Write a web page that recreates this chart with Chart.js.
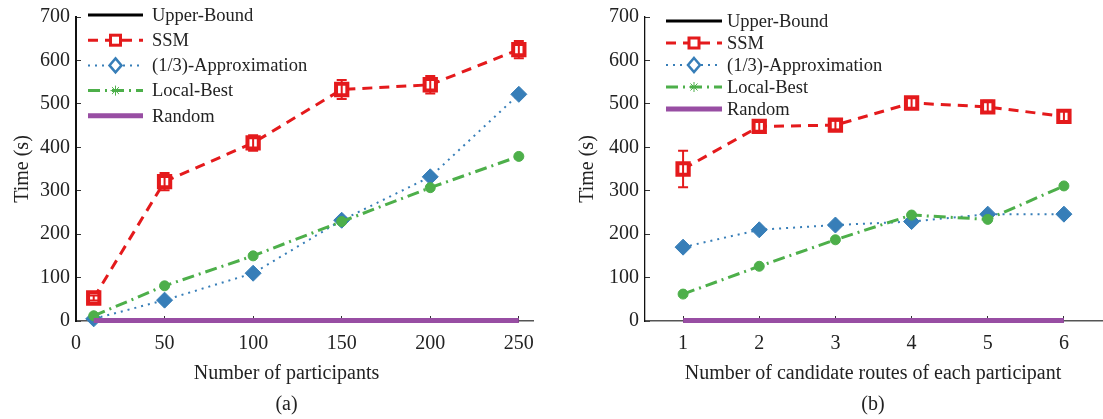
<!DOCTYPE html>
<html>
<head>
<meta charset="utf-8">
<title>Time vs participants / candidate routes</title>
<script src="https://cdn.jsdelivr.net/npm/chart.js@4.4.1/dist/chart.umd.min.js"></script>
<style>
  body { margin: 0; background: #fff; width: 1103px; height: 419px; overflow: hidden; position: relative; }
  canvas { position: absolute; top: 0; }
  #chartA { left: 0; }
  #chartB { left: 553px; }
</style>
</head>
<body>
<canvas id="chartA" width="573" height="419"></canvas>
<canvas id="chartB" width="640" height="419"></canvas>
<script>
// (a) time vs number of participants
const participants = [10, 50, 100, 150, 200, 250];
const upperBoundA = [0, 0, 0, 0, 0, 0];
const ssmA = [53, 321, 410, 533, 544, 625];
const ssmErrA = [6, 20, 18, 22, 20, 20];
const approxA = [5, 48, 110, 232, 332, 522];
const localBestA = [12, 81, 150, 229, 307, 379];
const randomA = [1, 1, 1, 1, 1, 1];
const xTicksA = [0, 50, 100, 150, 200, 250];

// (b) time vs number of candidate routes
const routes = [1, 2, 3, 4, 5, 6];
const upperBoundB = [0, 0, 0, 0, 0, 0];
const ssmB = [350, 448, 451, 502, 493, 471];
const ssmErrB = [42, 10, 10, 12, 14, 14];
const approxB = [170, 210, 221, 229, 246, 246];
const localBestB = [62, 126, 187, 244, 234, 311];
const randomB = [1, 1, 1, 1, 1, 1];
const xTicksB = [1, 2, 3, 4, 5, 6];

const yTicks = [0, 100, 200, 300, 400, 500, 600, 700];
const seriesNames = ['Upper-Bound', 'SSM', '(1/3)-Approximation', 'Local-Best', 'Random'];

const FONT = '"Liberation Serif", "Times New Roman", serif';
const TEXT = '#222';

// line / marker look of each series
const styles = {
  'Upper-Bound':         { color: '#000000', width: 3,   dash: [],            marker: null },
  'SSM':                 { color: '#e41a1c', width: 3,   dash: [10, 7],       marker: 'rect' },
  '(1/3)-Approximation': { color: '#377eb8', width: 2,   dash: [2, 5],        marker: 'rectRot' },
  'Local-Best':          { color: '#4daf4a', width: 3,   dash: [12, 5, 2, 5], marker: 'circle' },
  'Random':              { color: '#984ea3', width: 5,   dash: [],            marker: null }
};

function makeDatasets(xs, values) {
  return seriesNames.map((name, i) => {
    const st = styles[name];
    const ds = {
      label: name,
      data: xs.map((x, j) => ({ x: x, y: values[i][j] })),
      borderColor: st.color,
      backgroundColor: st.color,
      borderWidth: st.width,
      borderDash: st.dash,
      tension: 0,
      clip: false,
      pointRadius: 0,
      pointStyle: st.marker || 'circle',
      order: name === 'Random' ? 0 : (name === 'Upper-Bound' ? 9 : 5 - i)
    };
    if (name === 'SSM') {
      ds.pointRadius = 8;
      ds.pointBackgroundColor = '#fff';
      ds.pointBorderColor = st.color;
      ds.pointBorderWidth = 4;
    } else if (name === '(1/3)-Approximation') {
      ds.pointRadius = 8;
      ds.pointBorderWidth = 1;
    } else if (name === 'Local-Best') {
      ds.pointRadius = 5;
      ds.pointBorderWidth = 1;
    }
    return ds;
  });
}

// vertical error bars on the SSM series
const errorBars = {
  id: 'errorBars',
  afterDatasetsDraw(chart, args, opts) {
    const idx = seriesNames.indexOf('SSM');
    const meta = chart.getDatasetMeta(idx);
    const ys = chart.scales.y;
    const ctx = chart.ctx;
    ctx.save();
    ctx.strokeStyle = styles['SSM'].color;
    ctx.lineWidth = 2;
    meta.data.forEach((pt, j) => {
      const v = chart.data.datasets[idx].data[j].y;
      const top = ys.getPixelForValue(v + opts.errors[j]);
      const bot = ys.getPixelForValue(v - opts.errors[j]);
      ctx.beginPath();
      ctx.moveTo(pt.x, top); ctx.lineTo(pt.x, bot);
      ctx.moveTo(pt.x - 5, top); ctx.lineTo(pt.x + 5, top);
      ctx.moveTo(pt.x - 5, bot); ctx.lineTo(pt.x + 5, bot);
      ctx.stroke();
    });
    ctx.restore();
  }
};

// MATLAB style legend: line sample with marker in the middle
const lineLegend = {
  id: 'lineLegend',
  afterDraw(chart, args, opts) {
    const ctx = chart.ctx;
    ctx.save();
    ctx.font = '18.5px ' + FONT;
    ctx.textBaseline = 'middle';
    seriesNames.forEach((name, i) => {
      const st = styles[name];
      const y = opts.top + i * opts.gap;
      const mid = (opts.x0 + opts.x1) / 2;
      ctx.strokeStyle = st.color;
      ctx.lineWidth = st.width;
      ctx.setLineDash(st.dash);
      ctx.beginPath();
      ctx.moveTo(opts.x0, y); ctx.lineTo(opts.x1, y);
      ctx.stroke();
      ctx.setLineDash([]);
      if (st.marker === 'rect') {
        ctx.fillStyle = '#fff';
        ctx.lineWidth = 3;
        ctx.fillRect(mid - 5, y - 5, 10, 10);
        ctx.strokeRect(mid - 5, y - 5, 10, 10);
      } else if (st.marker === 'rectRot') {
        ctx.fillStyle = '#fff';
        ctx.lineWidth = 2.5;
        ctx.beginPath();
        ctx.moveTo(mid, y - 7); ctx.lineTo(mid + 6, y); ctx.lineTo(mid, y + 7); ctx.lineTo(mid - 6, y);
        ctx.closePath();
        ctx.fill(); ctx.stroke();
      } else if (st.marker === 'circle') {
        ctx.lineWidth = 1;
        ctx.beginPath();
        for (let k = 0; k < 4; k++) {
          const a = k * Math.PI / 4;
          ctx.moveTo(mid - 5 * Math.cos(a), y - 5 * Math.sin(a));
          ctx.lineTo(mid + 5 * Math.cos(a), y + 5 * Math.sin(a));
        }
        ctx.stroke();
      }
      ctx.fillStyle = TEXT;
      ctx.fillText(name, opts.textX, y + 1);
    });
    ctx.restore();
  }
};

function makeChart(id, cfg) {
  return new Chart(document.getElementById(id), {
    type: 'line',
    data: { datasets: makeDatasets(cfg.xs, cfg.values) },
    plugins: [errorBars, lineLegend],
    options: {
      responsive: false,
      animation: false,
      layout: { padding: { top: 17, right: 0, left: 0, bottom: 0 } },
      plugins: {
        legend: { display: false },
        tooltip: { enabled: false },
        // caption (a)/(b) at the very bottom, axis name just above it
        title: {
          display: true, text: cfg.caption, position: 'bottom', color: TEXT,
          font: { family: FONT, size: 20, weight: 'normal' },
          padding: { top: 0, bottom: 2 }
        },
        subtitle: {
          display: true, text: cfg.xTitle, position: 'bottom', color: TEXT,
          font: { family: FONT, size: 20, weight: 'normal' },
          padding: { top: 0, bottom: 7 }
        },
        errorBars: { errors: cfg.errors },
        lineLegend: cfg.legend
      },
      scales: {
        x: {
          type: 'linear', min: cfg.xMin, max: cfg.xMax,
          afterBuildTicks: s => { s.ticks = cfg.xTicks.map(v => ({ value: v })); },
          afterFit: s => { s.height = 41; s.paddingLeft = 0; s.paddingRight = 0; },
          ticks: { color: TEXT, font: { family: FONT, size: 20 }, padding: 16, maxRotation: 0 },
          grid: { drawOnChartArea: false, drawTicks: true, tickLength: -5, color: '#333' },
          border: { display: true, color: '#555', width: 1.5 }
        },
        y: {
          min: 0, max: 700,
          afterBuildTicks: s => { s.ticks = yTicks.map(v => ({ value: v })); },
          afterFit: s => { s.width = cfg.yWidth; s.paddingTop = 0; s.paddingBottom = 0; },
          ticks: { color: TEXT, font: { family: FONT, size: 20 }, padding: 11 },
          grid: { drawOnChartArea: false, drawTicks: true, tickLength: -5, color: '#333' },
          border: { display: true, color: '#111', width: cfg.yBorder },
          title: {
            display: true, text: 'Time (s)', color: TEXT,
            font: { family: FONT, size: 20 }, padding: { top: cfg.yTitlePad, bottom: 0 }
          }
        },
        // empty right-hand spacer so the captions sit where the figure has them
        spacer: {
          position: 'right', min: 0, max: 1,
          afterFit: s => { s.width = cfg.spacer; s.paddingTop = 0; s.paddingBottom = 0; },
          ticks: { display: false },
          grid: { display: false },
          border: { display: false }
        }
      }
    }
  });
}

makeChart('chartA', {
  xs: participants,
  values: [upperBoundA, ssmA, approxA, localBestA, randomA],
  errors: ssmErrA,
  xTicks: xTicksA, xMin: 0, xMax: 258,
  xTitle: 'Number of participants', caption: '(a)',
  spacer: 40, yWidth: 76, yTitlePad: 11, yBorder: 2,
  legend: { x0: 88, x1: 143, textX: 152, top: 15, gap: 25.2 }
});

makeChart('chartB', {
  xs: routes,
  values: [upperBoundB, ssmB, approxB, localBestB, randomB],
  errors: ssmErrB,
  xTicks: xTicksB, xMin: 0.5, xMax: 6.5,
  xTitle: 'Number of candidate routes of each participant', caption: '(b)',
  spacer: 91, yWidth: 92, yTitlePad: 23, yBorder: 1.3,
  legend: { x0: 113, x1: 169, textX: 174, top: 21, gap: 22 }
});
</script>
</body>
</html>
